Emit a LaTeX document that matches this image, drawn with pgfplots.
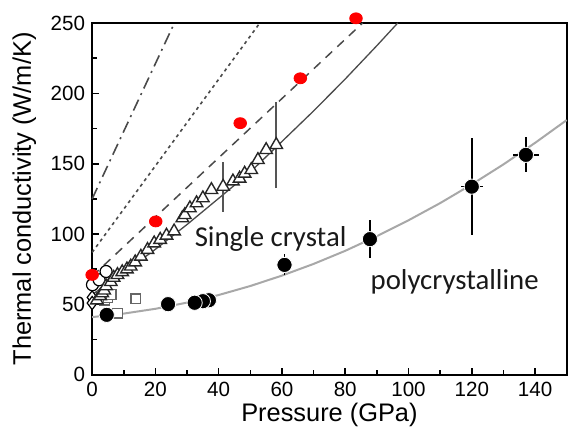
\documentclass[border=0pt]{standalone}
\usepackage{fontspec}
\setmainfont{Liberation Sans}
\newfontfamily\calibri{Carlito}
\usepackage{pgfplots}
\pgfplotsset{compat=1.18}
\definecolor{lineg}{HTML}{4A4A4A}
\definecolor{curveg}{HTML}{A8A8A8}
\definecolor{errg}{HTML}{555555}
\begin{document}
\begin{tikzpicture}
\begin{axis}[
  scale only axis, width=237.4pt, height=176pt,
  xmin=0, xmax=150, ymin=0, ymax=250,
  clip=false,
  axis line style={line width=1.2pt},
  tick pos=left, tick align=inside,
  xtick={0,20,...,140}, ytick={0,50,...,250},
  minor x tick num=1, minor y tick num=1,
  major tick length=3.5pt, minor tick length=2.2pt,
  tick style={line width=0.8pt, black},
  /pgf/number format/assume math mode=true,
  ticklabel style={font=\fontsize{10.3}{12}\selectfont},
  xlabel={Pressure (GPa)}, ylabel={Thermal conductivity (W/m/K)},
  label style={font=\fontsize{12.7}{14}\selectfont},
  xlabel style={at={(axis description cs:0.5,0)}, anchor=base, yshift=-23.5pt},
  ylabel style={at={(axis description cs:-0.143,0.5)}, anchor=center},
]
% fitted lines
\addplot[lineg, line width=0.8pt, dash pattern=on 6pt off 2.6pt on 1pt off 2.6pt] coordinates {(0,125) (26,250)};
\addplot[lineg, line width=0.8pt, dash pattern=on 1.6pt off 1.8pt] coordinates {(0,87) (53,250)};
\addplot[lineg, line width=0.75pt, dash pattern=on 4.5pt off 3.5pt] coordinates {(0,70) (85.5,250)};
\addplot[lineg, line width=0.65pt] coordinates {(0,57) (10,72.6) (20,89.2) (30,106.8) (40,125.4) (50,144.1) (60,165.8) (70,187.5) (80,210.2) (90,233.9) (96.6,250)};
\addplot[curveg, line width=1pt] coordinates {(0,41) (10,43.5) (20,46.9) (30,51.3) (40,56.7) (50,63.1) (60,70.5) (70,78.8) (80,88.1) (90,98.5) (100,109.8) (110,122.0) (120,135.3) (130,149.5) (140,164.8) (150,181.0)};
% open squares
\addplot[only marks, mark=square*, mark size=2.4pt, mark options={draw=gray!80!black, fill=white, line width=0.6pt}] coordinates {(13.8,54) (8,43.8) (4,53) (5,55) (6,57)};
% open diamonds
\addplot[only marks, mark=diamond*, mark size=3.3pt, mark options={draw=black, fill=white, line width=0.6pt}] coordinates {(0,55) (0,51)};
% open circles
\addplot[only marks, mark=*, mark size=3pt, mark options={draw=black, fill=white, line width=0.6pt}] coordinates {(0.1,64) (2.2,67.5) (4.4,73.4)};
% open triangles (single crystal)
\addplot[only marks, mark=triangle*, mark size=3.6pt, mark options={draw=black!85, fill=white, line width=0.7pt}] coordinates {
(1.5,53) (2.5,56) (3.2,58) (3.8,60) (4.4,63) (5.9,66) (6.8,69) (8,71) (9.5,73) (11,75) (12.2,77) (13.6,80) (15.4,84) (17.5,88.8) (19.6,93.5) (21.5,96) (23.5,99) (25.9,102) (28.5,111.3) (29.3,113.6) (30.9,118.4) (33,122) (35,125.5) (37.7,131.4) (41.4,133.7) (44.5,137.5) (46.6,139.5) (48.2,143) (50.3,145.6) (52.4,152.7) (55,159.8) (58.2,163.4)};
% error bars of the single crystal data
\addplot[errg, line width=0.8pt, mark=none] coordinates {(41.4,116) (41.4,151.4)};
\addplot[errg, line width=0.8pt, mark=none] coordinates {(58.2,132.6) (58.2,194)};
% polycrystalline
\addplot[only marks, mark=*, mark size=3.8pt, mark options={draw=white, fill=black, line width=0.4pt},
  error bars/.cd, x dir=both, y dir=both, x explicit, y explicit, error mark=none, error bar style={black, line width=0.8pt}] coordinates {
(4.6,42.6) +- (0,0) (24,50.2) +- (0,0) (36.9,53) +- (0,0) (35,52.3) +- (0,0) (32.4,51.2) +- (0,0)
(60.8,78.1) +- (0,7.5) (87.8,96.4) +- (0,13.5) (120,133.7) +- (3.5,34.3) (137.1,156.3) +- (4.2,12.5)};
% red points
\addplot[only marks, mark=*, mark size=2.75pt, mark options={draw=red, fill=red, xscale=1.15}] coordinates {(0,71) (20.1,109) (46.8,178.8) (65.8,210.7) (83.4,253.3)};
\node[anchor=base west, font=\calibri\fontsize{14.4}{16}\selectfont, text=black!90] at (axis cs:30.2,90.9) {Single crystal};
\node[anchor=base west, font=\calibri\fontsize{14.4}{16}\selectfont, text=black!90] at (axis cs:85.8,60.4) {polycrystalline};
\end{axis}
\path ([shift={(-46.1pt,11.5pt)}]current axis.north west) rectangle ([shift={(0.65pt,-29pt)}]current axis.south east);
\end{tikzpicture}
\end{document}
